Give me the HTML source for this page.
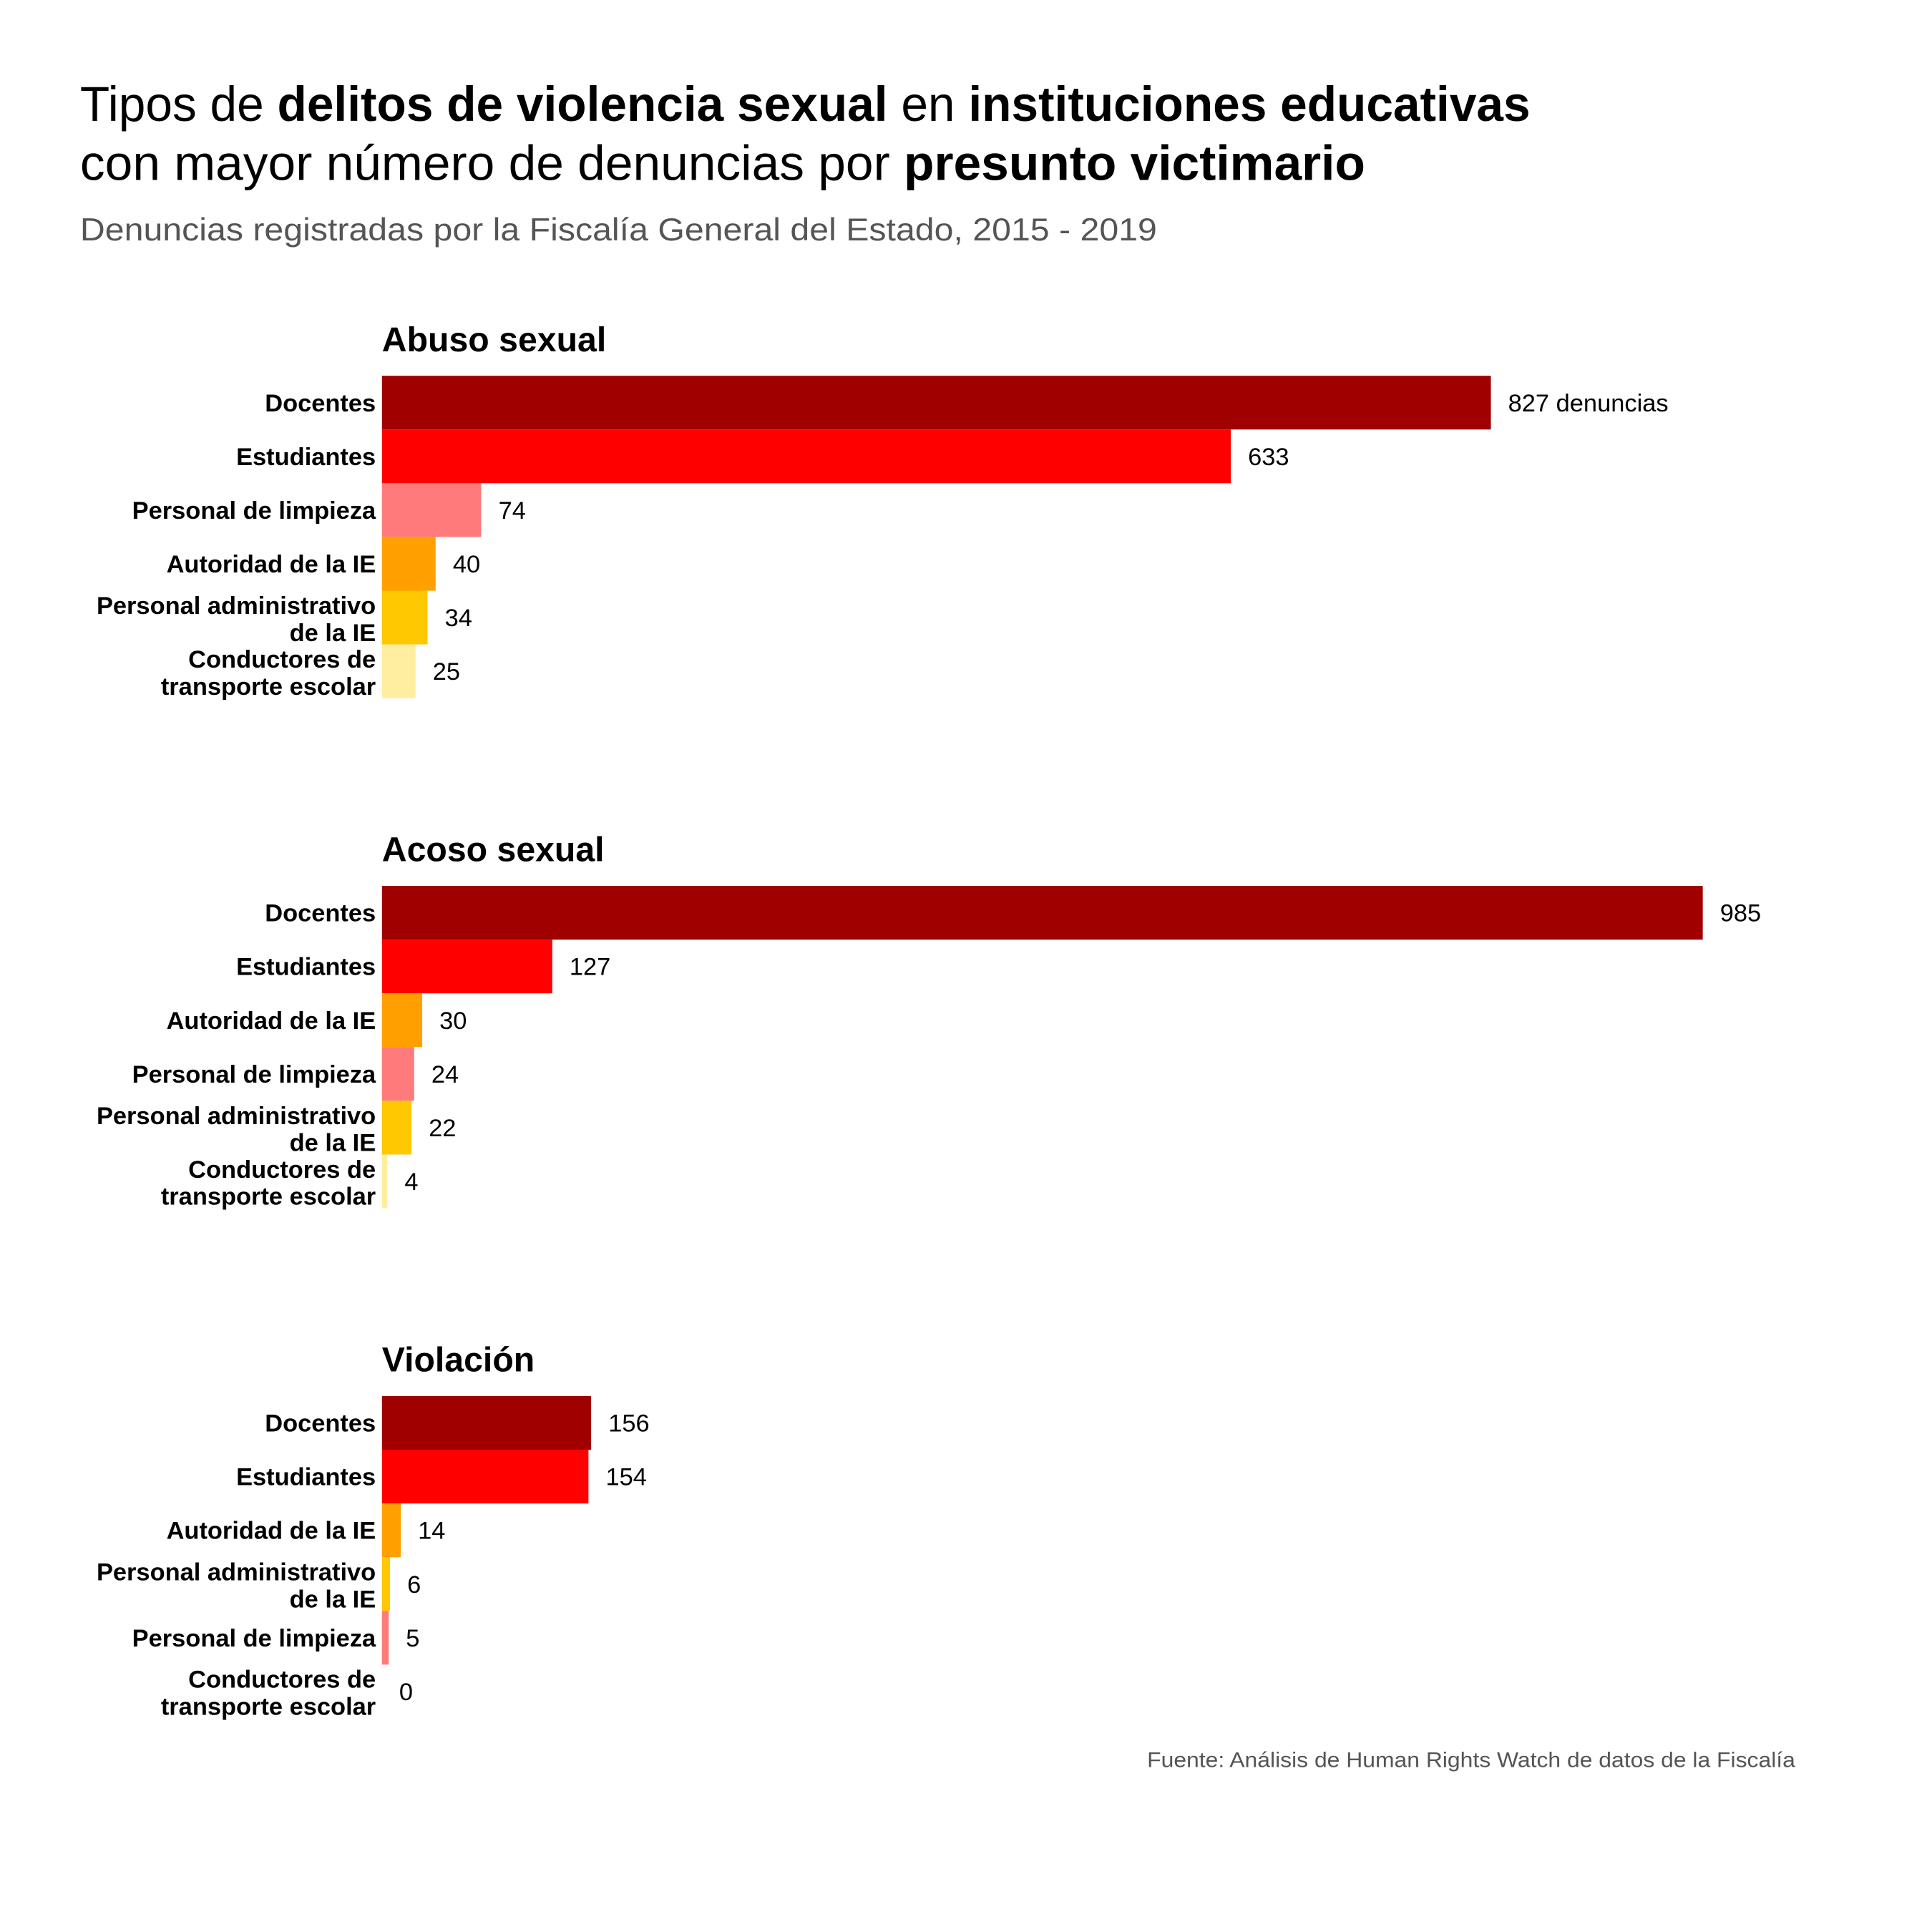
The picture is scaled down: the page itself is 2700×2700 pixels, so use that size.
<!DOCTYPE html>
<html><head><meta charset="utf-8"><style>
html,body{margin:0;padding:0;background:#fff;}
svg{display:block;}
text{font-family:"Liberation Sans Narrow","Liberation Sans",sans-serif;}
</style></head><body>
<svg id="chart" width="2700" height="2700" viewBox="0 0 1568 1568" xmlns="http://www.w3.org/2000/svg">
<rect width="1568" height="1568" fill="#fff"/>
<text x="65" y="98" font-size="40" textLength="1177" lengthAdjust="spacingAndGlyphs" fill="#000">Tipos de <tspan font-weight="bold">delitos de violencia sexual</tspan> en <tspan font-weight="bold">instituciones educativas</tspan></text>
<text x="65" y="146" font-size="40" textLength="1043" lengthAdjust="spacingAndGlyphs" fill="#000">con mayor número de denuncias por <tspan font-weight="bold">presunto victimario</tspan></text>
<text x="65" y="195" font-size="26" textLength="874" lengthAdjust="spacingAndGlyphs" fill="#555">Denuncias registradas por la Fiscalía General del Estado, 2015 - 2019</text>
<text x="1457" y="1434" font-size="17" text-anchor="end" textLength="526" lengthAdjust="spacingAndGlyphs" fill="#555">Fuente: Análisis de Human Rights Watch de datos de la Fiscalía</text>
<g id="panels"></g>
</svg>
<script>
const panelTitles = ["Abuso sexual", "Acoso sexual", "Violación"];
const abusoCats = ["Docentes","Estudiantes","Personal de limpieza","Autoridad de la IE","Personal administrativo|de la IE","Conductores de|transporte escolar"];
const abusoVals = [827, 633, 74, 40, 34, 25];
const acosoCats = ["Docentes","Estudiantes","Autoridad de la IE","Personal de limpieza","Personal administrativo|de la IE","Conductores de|transporte escolar"];
const acosoVals = [985, 127, 30, 24, 22, 4];
const violCats = ["Docentes","Estudiantes","Autoridad de la IE","Personal administrativo|de la IE","Personal de limpieza","Conductores de|transporte escolar"];
const violVals = [156, 154, 14, 6, 5, 0];

const colorMap = {
  "Docentes":"#a00000","Estudiantes":"#ff0000","Personal de limpieza":"#ff7b7b",
  "Autoridad de la IE":"#ffa000","Personal administrativo|de la IE":"#ffc800",
  "Conductores de|transporte escolar":"#ffeea0"
};
const NS = "http://www.w3.org/2000/svg";
const x0 = 310, pxPerUnit = 900/827, barH = 43.6;
function xScale(v){ return x0 + v*pxPerUnit; }
const g = document.getElementById('panels');
function mk(tag, attrs, txt){
  const e = document.createElementNS(NS, tag);
  for (const k in attrs) e.setAttribute(k, attrs[k]);
  if (txt !== undefined) e.textContent = txt;
  return e;
}
const panels = [[abusoCats, abusoVals],[acosoCats, acosoVals],[violCats, violVals]];
panels.forEach((p, pi) => {
  const top = 305 + pi*414;
  const t = mk('text', {x:310, y:top-20, 'font-size':28, 'font-weight':'bold', fill:'#000'}, panelTitles[pi]);
  
  
  g.appendChild(t);
  p[0].forEach((c, i) => {
    const y = top + i*barH, v = p[1][i];
    const r = mk('rect', {x:x0, y:y, width:Math.max(0, xScale(v)-x0), height:barH, fill:colorMap[c]});
    
    
    g.appendChild(r);
    const lines = c.split('|');
    const cy = y + barH/2;
    lines.forEach((ln, li) => {
      const ly = lines.length === 1 ? cy + 7 : cy - 3 + li*22;
      const lt = mk('text', {x:305, y:ly, 'font-size':20, 'font-weight':'bold', 'text-anchor':'end', fill:'#000'}, ln);
      
      
      g.appendChild(lt);
    });
    const vt = mk('text', {x:xScale(v)+14, y:cy+7, 'font-size':20, fill:'#000'}, (pi===0 && i===0) ? v + ' denuncias' : String(v));
    
    
    g.appendChild(vt);
  });
});
</script>
</body></html>
